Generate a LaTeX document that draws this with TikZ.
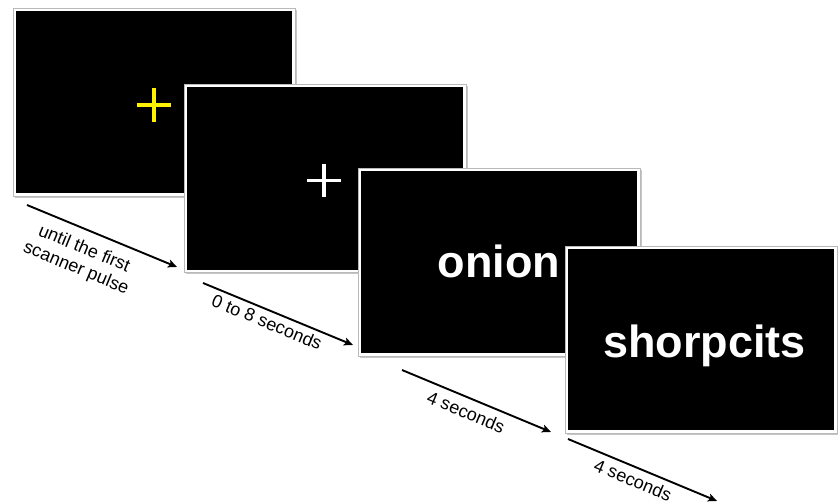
\documentclass[tikz,border=0pt]{standalone}
\usepackage{fontspec}
\setmainfont{Liberation Sans}
\usetikzlibrary{arrows.meta,shadows}
\begin{document}
\begin{tikzpicture}[x=1pt,y=-1pt,
  screen/.style={draw=gray!55, line width=0.6pt, fill=white, inner sep=0pt,
    minimum width=282pt, minimum height=188pt,
    drop shadow={shadow xshift=1.6pt, shadow yshift=-1.8pt, opacity=0.45, fill=gray},
    path picture={\fill[black] ([shift={(2.6pt,2.6pt)}]path picture bounding box.south west)
      rectangle ([shift={(-2.6pt,-2.6pt)}]path picture bounding box.north east);}},
  word/.style={text=white, font=\fontsize{45}{50}\selectfont\bfseries, inner sep=0pt, anchor=base},
  arr/.style={line width=1.9pt, -{Stealth[length=9pt,width=8pt,inset=2pt]}},
  lab/.style={font=\fontsize{18}{21}\selectfont, rotate=-22.5, align=center, inner sep=0pt},
  crossarm/.style={line width=3.6pt}]
\useasboundingbox (0,0) rectangle (838,502);
% screens
\node[screen] (s1) at (154,102) {};
\draw[crossarm, yellow] (137,105) -- (171,105) (154,88) -- (154,122);
\node[screen] (s2) at (325,178.5) {};
\draw[crossarm, white] (307,180.5) -- (341,180.5) (324,164) -- (324,197);
\node[screen] (s3) at (499,262) {};
\node[word] (w3) at (499,278) {onion};
\node[screen, minimum width=272pt, minimum height=187pt] (s4) at (701,339.5) {};
\node[word] (w4) at (704.5,358) {shorpcits};
% arrows
\coordinate (a1s) at (27,205);
\coordinate (a1e) at (177,267);
\coordinate (a2s) at (203,283);
\coordinate (a2e) at (353,345);
\coordinate (a3s) at (402,370);
\coordinate (a3e) at (551,432);
\coordinate (a4s) at (568,439);
\coordinate (a4e) at (717,501);
\draw[arr] (a1s) -- (a1e);
\draw[arr] (a2s) -- (a2e);
\draw[arr] (a3s) -- (a3e);
\draw[arr] (a4s) -- (a4e);
% labels
\node[lab] (l1) at (80,259) {until the first\\scanner pulse};
\node[lab] (l2) at (267,322) {0 to 8 seconds};
\node[lab] (l3) at (466,412) {4 seconds};
\node[lab] (l4) at (633,480) {4 seconds};
\end{tikzpicture}
\end{document}
